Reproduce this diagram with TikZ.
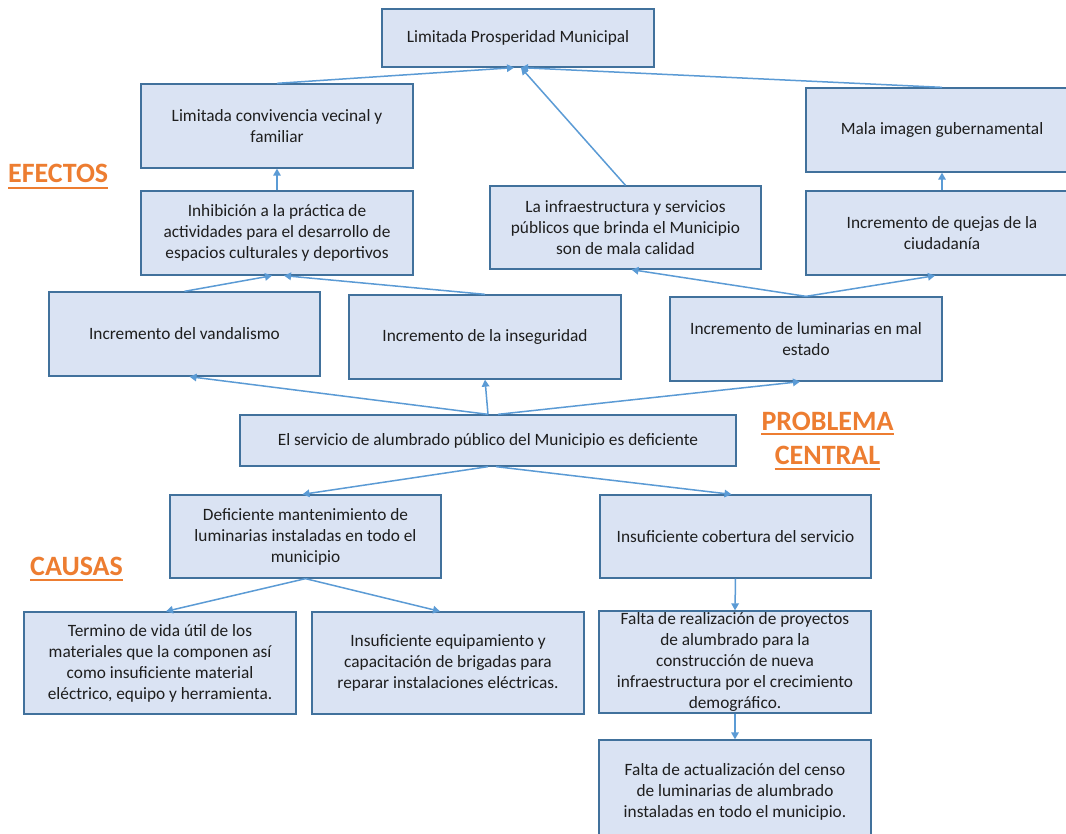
\documentclass[tikz,border=0pt]{standalone}
\usepackage{fontspec}
\setmainfont{Carlito}
\usetikzlibrary{arrows.meta}
\definecolor{boxfill}{HTML}{DAE3F3}
\definecolor{boxline}{HTML}{41719C}
\definecolor{arrcol}{HTML}{5B9BD5}
\definecolor{headcol}{HTML}{ED7D31}
\definecolor{txtcol}{HTML}{1E1E1E}
\begin{document}
\begin{tikzpicture}[x=1pt,y=-1pt,
  box/.style={draw=boxline, fill=boxfill, line width=1.3pt, align=center, inner sep=0pt,
    text=txtcol, font=\fontsize{17.3}{21}\selectfont},
  arr/.style={draw=arrcol, line width=1.5pt, -{Triangle[width=7.5pt,length=7pt]}},
  head/.style={text=headcol, inner sep=0pt, font=\fontsize{28}{34}\selectfont\bfseries},
  uline/.style={draw=headcol, line width=1.6pt}]
\useasboundingbox (0,0) rectangle (1066,834);
\fill[white] (0,0) rectangle (1066,834);
\clip (0,0) rectangle (1066,834);

% effects
\node[box, minimum width=272pt, minimum height=58pt] (P) at (518,38) {Limitada Prosperidad Municipal};
\node[box, minimum width=272pt, minimum height=84pt] (LC) at (277,126) {Limitada convivencia vecinal y\\familiar};
\node[box, minimum width=272pt, minimum height=84pt] (MI) at (942,130) {Mala imagen gubernamental};
\node[box, minimum width=272pt, minimum height=84pt] (IN) at (277,233) {Inhibición a la práctica de\\actividades para el desarrollo de\\espacios culturales y deportivos};
\node[box, minimum width=271pt, minimum height=83pt] (IS) at (625.5,227.5) {La infraestructura y servicios\\públicos que brinda el Municipio\\son de mala calidad};
\node[box, minimum width=272pt, minimum height=84pt] (IQ) at (942,233) {Incremento de quejas de la\\ciudadanía};
\node[box, minimum width=271pt, minimum height=84pt] (IV) at (184.5,334) {Incremento del vandalismo};
\node[box, minimum width=272pt, minimum height=84pt] (II) at (485,337) {Incremento de la inseguridad};
\node[box, minimum width=272pt, minimum height=84pt] (IL) at (806,339) {Incremento de luminarias en mal\\estado};

% central problem
\node[box, minimum width=496pt, minimum height=51pt] (PC) at (488,440.5) {El servicio de alumbrado público del Municipio es deficiente};

% causes
\node[box, minimum width=271pt, minimum height=83pt] (DM) at (305.5,536.5) {Deficiente mantenimiento de\\luminarias instaladas en todo el\\municipio};
\node[box, minimum width=271pt, minimum height=83pt] (ICS) at (735.5,536.5) {Insuficiente cobertura del servicio};
\node[box, minimum width=272pt, minimum height=102pt] (TV) at (160,663) {Termino de vida útil de los\\materiales que la componen así\\como insuficiente material\\eléctrico, equipo y herramienta.};
\node[box, minimum width=272pt, minimum height=102pt] (IE) at (448,663) {Insuficiente equipamiento y\\capacitación de brigadas para\\reparar instalaciones eléctricas.};
\node[box, minimum width=272pt, minimum height=102pt] (FR) at (735,662) {Falta de realización de proyectos\\de alumbrado para la\\construcción de nueva\\infraestructura por el crecimiento\\demográfico.};
\node[box, minimum width=272pt, minimum height=104pt] (FA) at (735,792) {Falta de actualización del censo\\de luminarias de alumbrado\\instaladas en todo el municipio.};

% headings
\node[head, anchor=base west] (EF) at (8,183) {EFECTOS};
\draw[uline] ([yshift=-5pt]EF.base west) -- ([yshift=-5pt]EF.base east);
\node[head, anchor=base] (PR) at (827.5,430) {PROBLEMA};
\draw[uline] ([yshift=-4pt]PR.base west) -- ([yshift=-4pt]PR.base east);
\node[head, anchor=base] (CE) at (827.5,464) {CENTRAL};
\draw[uline] ([yshift=-5pt]CE.base west) -- ([yshift=-5pt]CE.base east);
\node[head, anchor=base west] (CA) at (30,575) {CAUSAS};
\draw[uline] ([yshift=-5pt]CA.base west) -- ([yshift=-5pt]CA.base east);

% connectors
\draw[arr] (LC.north) -- ([xshift=-4pt]P.south);
\draw[arr] (IS.north) -- ([xshift=3pt]P.south);
\draw[arr] (MI.north) -- ([xshift=3pt]P.south);
\draw[arr] (IN.north) -- (LC.south);
\draw[arr] (IQ.north) -- (MI.south);
\draw[arr] (IV.north) -- ([xshift=-5pt]IN.south);
\draw[arr] (II.north) -- ([xshift=7pt]IN.south);
\draw[arr] (IL.north) -- ([xshift=6pt]IS.south);
\draw[arr] (IL.north) -- ([xshift=-7pt]IQ.south);
\draw[arr] (PC.north) -- ([xshift=5pt]IV.south);
\draw[arr] (PC.north) -- (II.south);
\draw[arr] ([xshift=10pt]PC.north) -- ([xshift=-6pt]IL.south);
\draw[arr] (PC.south) -- ([xshift=-3pt]DM.north);
\draw[arr] ([xshift=8pt]PC.south) -- ([xshift=-4pt]ICS.north);
\draw[arr] (DM.south) -- ([xshift=6pt]TV.north);
\draw[arr] (DM.south) -- ([xshift=-8pt]IE.north);
\draw[arr] (ICS.south) -- (FR.north);
\draw[arr] (FR.south) -- (FA.north);
\end{tikzpicture}
\end{document}
